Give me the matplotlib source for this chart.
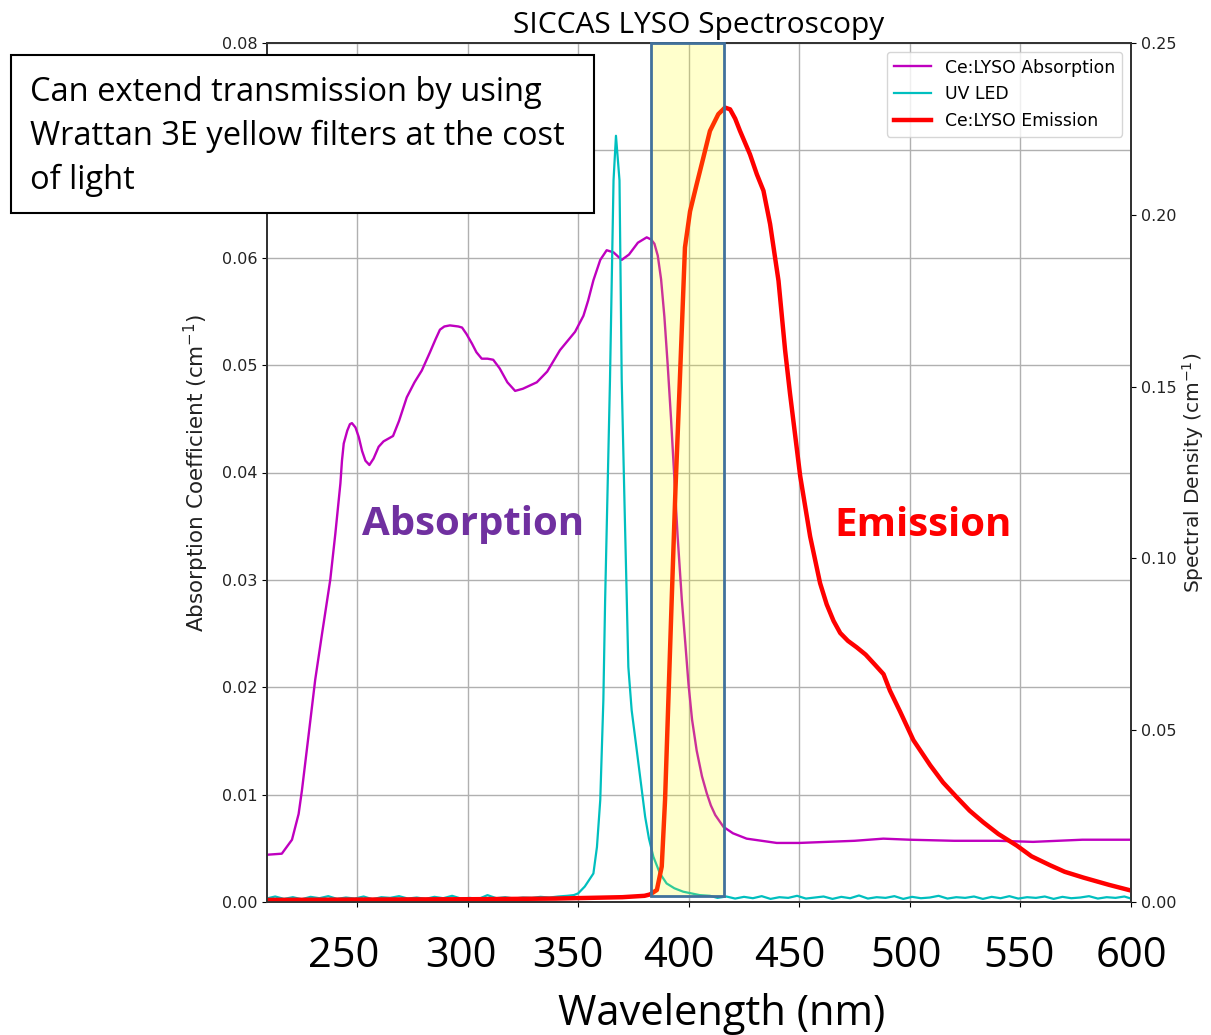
import matplotlib
matplotlib.use("Agg")
import matplotlib.pyplot as plt
from matplotlib.patches import Rectangle
from matplotlib.transforms import ScaledTranslation

# ---------------- data ----------------
abs_wl = [209.3, 216.0, 220.6, 223.6, 225.1, 228.2, 231.1, 234.2, 237.9, 240.2,
          242.5, 243.2, 244.0, 245.6, 246.8, 247.7, 249.3, 250.8, 252.3, 253.8,
          255.6, 257.5, 259.8, 262.0, 266.3, 269.0, 272.5, 276.0, 279.3, 283.0,
          285.5, 287.5, 289.5, 292.0, 295.8, 297.5, 299.5, 302.0, 304.0, 306.4,
          309.0, 311.6, 314.5, 318.0, 321.5, 325.0, 331.3, 336.0, 341.8, 348.6,
          352.4, 354.5, 356.9, 360.0, 362.9, 366.0, 369.7, 373.0, 377.0, 381.0,
          383.0, 384.5, 386.0, 387.5, 389.0, 390.5, 392.0, 393.5, 395.0, 396.9,
          398.5, 399.9, 401.5, 403.6, 406.0, 408.2, 410.0, 412.0, 415.7, 420.0,
          426.2, 433.0, 439.8, 450.0, 462.4, 475.0, 488.0, 500.0, 520.0, 540.0,
          555.7, 578.0, 600.0]
abs_val = [0.0044, 0.0045, 0.0058, 0.0082, 0.0104, 0.0157, 0.0207, 0.0250, 0.0300, 0.0343,
           0.0390, 0.0411, 0.0427, 0.0439, 0.0445, 0.0446, 0.0442, 0.0433, 0.0420, 0.0411,
           0.0407, 0.0413, 0.0424, 0.0429, 0.0434, 0.0448, 0.0470, 0.0484, 0.0495, 0.0512,
           0.0524, 0.0533, 0.0536, 0.0537, 0.0536, 0.0535, 0.0529, 0.0520, 0.0512, 0.0506,
           0.0506, 0.0505, 0.0497, 0.0484, 0.0476, 0.0478, 0.0484, 0.0494, 0.0514, 0.0531,
           0.0546, 0.0560, 0.0579, 0.0598, 0.0607, 0.0605, 0.0598, 0.0603, 0.0614, 0.0619,
           0.0617, 0.0613, 0.0602, 0.0580, 0.0545, 0.0500, 0.0450, 0.0395, 0.0340, 0.0281,
           0.0240, 0.0203, 0.0170, 0.0141, 0.0117, 0.0101, 0.0090, 0.0081, 0.0070, 0.0064,
           0.0059, 0.0057, 0.0055, 0.0055, 0.0056, 0.0057, 0.0059, 0.0058, 0.0057, 0.0057,
           0.0056, 0.0058, 0.0058]

led_wl = [209, 213, 217, 221, 225, 229, 233, 237, 241, 245, 249, 253, 257, 261, 265,
          269, 273, 277, 281, 285, 289, 293, 297, 301, 305, 309, 313, 317, 321, 325,
          329, 333, 337, 341, 345, 348, 350, 353, 356.9, 358.5, 360.0, 361.4, 362.2,
          364.4, 366.0, 367.1, 368.7, 369.7, 371.0, 372.0, 372.7, 374.2, 376.5, 378.5,
          380.3, 382.0, 384.0, 387.0, 390.0, 393.5, 397.5, 402, 405, 409.6, 413, 417,
          421, 425, 429, 433, 437, 441, 445, 449, 453, 457, 461, 465, 469, 473, 477,
          481, 485, 489, 493, 497, 501, 505, 509, 513, 517, 521, 525, 529, 533, 537,
          541, 545, 549, 553, 557, 561, 565, 569, 573, 577, 581, 585, 589, 593, 597, 600]
led_val = [0.0010, 0.0016, 0.0009, 0.0014, 0.0008, 0.0015, 0.0011, 0.0017, 0.0009, 0.0013,
           0.0010, 0.0016, 0.0008, 0.0014, 0.0012, 0.0017, 0.0010, 0.0013, 0.0009, 0.0015,
           0.0011, 0.0018, 0.0010, 0.0012, 0.0009, 0.0020, 0.0011, 0.0014, 0.0010, 0.0013,
           0.0012, 0.0015, 0.0013, 0.0016, 0.0018, 0.0020, 0.0025, 0.0045, 0.0083, 0.0160,
           0.0297, 0.0587, 0.0878, 0.1520, 0.2100, 0.2230, 0.2100, 0.1520, 0.1150, 0.0878,
           0.0684, 0.0558, 0.0442, 0.0340, 0.0248, 0.0185, 0.0132, 0.0083, 0.0054, 0.0040,
           0.0030, 0.0024, 0.0020, 0.0018, 0.0012, 0.0016, 0.0010, 0.0015, 0.0011, 0.0017,
           0.0009, 0.0014, 0.0012, 0.0018, 0.0010, 0.0013, 0.0016, 0.0009, 0.0015, 0.0011,
           0.0019, 0.0010, 0.0014, 0.0012, 0.0017, 0.0009, 0.0015, 0.0011, 0.0013, 0.0018,
           0.0010, 0.0014, 0.0012, 0.0016, 0.0009, 0.0015, 0.0011, 0.0017, 0.0010, 0.0014,
           0.0012, 0.0016, 0.0009, 0.0015, 0.0011, 0.0013, 0.0017, 0.0010, 0.0014, 0.0012,
           0.0016, 0.0010]

em_wl = [209.3, 250, 300, 340, 370, 380, 382.5, 385.6, 387.8, 389.3, 390.8, 392.3, 394.0,
         396.0, 398.3, 400.6, 403.6, 406.6, 409.6, 413.4, 416.4, 418.7, 421.0, 423.2,
         427.7, 430.8, 433.8, 436.8, 440.6, 443.6, 445.8, 450.4, 454.9, 459.4, 462.4,
         465.5, 468.5, 472.0, 476.0, 480.0, 484.3, 488.1, 491.0, 495.6, 501.6, 509.2,
         515.0, 521.2, 527.0, 533.2, 540.0, 548.4, 555.0, 563.4, 570.0, 578.5, 590.0,
         599.6]
em_val = [0.0006, 0.0007, 0.0008, 0.0010, 0.0014, 0.0018, 0.0022, 0.0035, 0.0103, 0.0297,
          0.0587, 0.0878, 0.1200, 0.1520, 0.1905, 0.2010, 0.2089, 0.2166, 0.2244, 0.2293,
          0.2312, 0.2307, 0.2280, 0.2244, 0.2176, 0.2118, 0.2070, 0.1973, 0.1808, 0.1605,
          0.1480, 0.1240, 0.1064, 0.0928, 0.0866, 0.0818, 0.0783, 0.0760, 0.0741, 0.0720,
          0.0690, 0.0663, 0.0615, 0.0554, 0.0471, 0.0398, 0.0348, 0.0305, 0.0266, 0.0232,
          0.0198, 0.0164, 0.0133, 0.0107, 0.0088, 0.0071, 0.0050, 0.0034]

x_ticks = [250, 300, 350, 400, 450, 500, 550, 600]
left_ticks = [0.00, 0.01, 0.02, 0.03, 0.04, 0.05, 0.06, 0.07, 0.08]
left_tick_labels = ['0.00', '0.01', '0.02', '0.03', '0.04', '0.05', '0.06', '', '0.08']
right_ticks = [0.00, 0.05, 0.10, 0.15, 0.20, 0.25]
band = (383.0, 416.0)

# ---------------- figure ----------------
fig = plt.figure(figsize=(12.11, 10.35), dpi=100)
ax = fig.add_axes([267/1211, 1-902/1035, 864/1211, 859/1035])
ax2 = ax.twinx()

l1, = ax.plot(abs_wl, abs_val, color='m', lw=1.7, label='Ce:LYSO Absorption')
l2, = ax2.plot(led_wl, led_val, color='c', lw=1.6, label='UV LED')
l3, = ax2.plot(em_wl, em_val, color='r', lw=3.2, label='Ce:LYSO Emission')

ax.set_xlim(209.3, 600)
ax.set_ylim(0, 0.08)
ax2.set_ylim(0, 0.25)
ax.grid(True, color='#b0b0b0', lw=1.0)
ax.set_axisbelow(True)

ax.set_xticks(x_ticks)
ax.set_xticklabels([str(t) for t in x_ticks], fontsize=30, family='Open Sans')
ax.tick_params(axis='x', pad=20)
label_shift_px = [-13, -7, -10, -10, -9, -4, -1, 0]
for lab, dx in zip(ax.get_xticklabels(), label_shift_px):
    lab.set_transform(lab.get_transform() + ScaledTranslation(dx/100, 0, fig.dpi_scale_trans))

ax.set_yticks(left_ticks)
ax.set_yticklabels(left_tick_labels, fontsize=11.5, color='#222222')
ax2.set_yticks(right_ticks)
ax2.set_yticklabels([f"{t:.2f}" for t in right_ticks], fontsize=11.5, color='#222222')

ax.set_ylabel('Absorption Coefficient (cm$^{-1}$)', fontsize=15.5, labelpad=8, color='#222222')
ax2.set_ylabel('Spectral Density (cm$^{-1}$)', fontsize=14.5, labelpad=3, color='#222222')

for sp in list(ax.spines.values()) + list(ax2.spines.values()):
    sp.set_color('#333333')
    sp.set_linewidth(1.3)

# yellow band overlay
ymin_band = 6/3440
ax2.add_patch(Rectangle((band[0], ymin_band), band[1]-band[0], 0.25-ymin_band,
                        facecolor=(1, 1, 0), alpha=0.2, edgecolor='none', zorder=5))
ax2.add_patch(Rectangle((band[0], ymin_band), band[1]-band[0], 0.25-ymin_band,
                        facecolor='none', edgecolor='#41719C', lw=2, zorder=6,
                        clip_on=False))

ax2.legend([l1, l2, l3], ['Ce:LYSO Absorption', 'UV LED', 'Ce:LYSO Emission'],
           loc='upper right', fontsize=12.4, framealpha=0.8, handlelength=2.2)

ax.set_title('SICCAS LYSO Spectroscopy', fontsize=21.5, family='Open Sans', pad=7)

# annotations
fig.text(473/1211, 1-525/1035, 'Absorption', color='#7030A0', fontsize=29,
         fontweight='bold', family='Open Sans', ha='center', va='center')
fig.text(923/1211, 1-525/1035, 'Emission', color='#FF0000', fontsize=29,
         fontweight='bold', family='Open Sans', ha='center', va='center')

fig.text(722/1211, 1-1025/1035, 'Wavelength (nm)', fontsize=30, family='Open Sans',
         ha='center', va='baseline')

# text box
fig.patches.append(Rectangle((11/1211, 1-213/1035), 583/1211, 158/1035,
                             transform=fig.transFigure, facecolor='white',
                             edgecolor='black', lw=1.5, zorder=10))
box_lines = ['Can extend transmission by using',
             'Wrattan 3E yellow filters at the cost',
             'of light']
for i, s in enumerate(box_lines):
    fig.text(30/1211, 1-(101+44*i)/1035, s, fontsize=23.5, family='Open Sans',
             ha='left', va='baseline', zorder=11)

fig.savefig('out.png', dpi=100)
